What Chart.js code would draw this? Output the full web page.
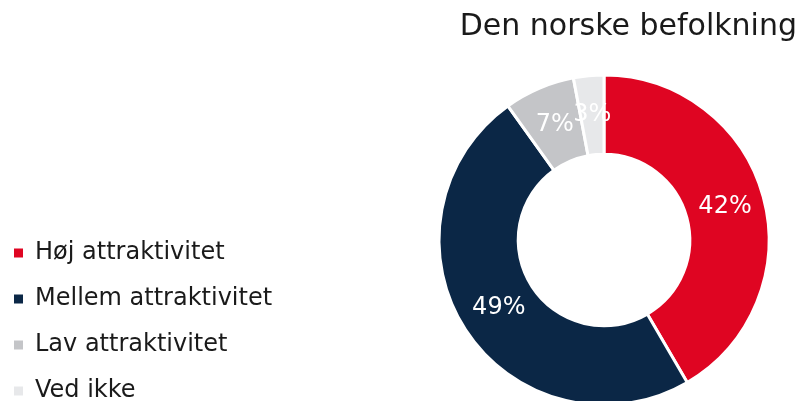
<!DOCTYPE html>
<html>
<head>
<meta charset="utf-8">
<script src="https://cdn.jsdelivr.net/npm/chart.js@4"></script>
<style>
  html, body { margin: 0; padding: 0; background: #ffffff; overflow: hidden; }
  #wrap { position: relative; width: 800px; height: 425px; }
</style>
</head>
<body>
<div id="wrap"><canvas id="c"></canvas></div>
<script>
const categories = ['Høj attraktivitet', 'Mellem attraktivitet', 'Lav attraktivitet', 'Ved ikke'];
const values = [42, 49, 7, 3];
const valueLabels = ['42%', '49%', '7%', '3%'];
const colors = ['#DF0522', '#0B2746', '#C4C5C8', '#E7E8EA'];
const titleText = 'Den norske befolkning';

const FONT = '"DejaVu Sans", sans-serif';

const legendWidthPlugin = {
  id: 'legendWidth',
  beforeInit(chart) {
    const origFit = chart.legend.fit;
    chart.legend.fit = function () {
      origFit.bind(chart.legend)();
      this.width = 419;
    };
  }
};

const sliceLabels = {
  id: 'sliceLabels',
  afterDatasetsDraw(chart) {
    const ctx = chart.ctx;
    const meta = chart.getDatasetMeta(0);
    ctx.save();
    ctx.fillStyle = '#ffffff';
    ctx.font = '24px ' + FONT;
    ctx.textAlign = 'center';
    ctx.textBaseline = 'middle';
    meta.data.forEach((arc, i) => {
      const p = arc.tooltipPosition();
      ctx.fillText(valueLabels[i], p.x, p.y);
    });
    ctx.restore();
  }
};

const baseGenerate = Chart.overrides.doughnut.plugins.legend.labels.generateLabels;

new Chart(document.getElementById('c'), {
  type: 'doughnut',
  data: {
    labels: categories,
    datasets: [{
      data: values,
      backgroundColor: colors,
      borderColor: '#ffffff',
      borderWidth: 3,
      hoverOffset: 0
    }]
  },
  options: {
    responsive: true,
    maintainAspectRatio: false,
    animation: false,
    radius: 165,
    cutout: '52%',
    layout: { padding: { left: -8, right: 3, top: 0, bottom: 0 } },
    plugins: {
      title: {
        display: true,
        text: titleText,
        align: 'end',
        color: '#1a1a1a',
        font: { family: FONT, size: 30, weight: 'normal', lineHeight: 1.2 },
        padding: { top: 9.5, bottom: 9.5 }
      },
      legend: {
        position: 'left',
        align: 'end',
        labels: {
          boxWidth: 9,
          boxHeight: 9,
          padding: 22,
          color: '#1a1a1a',
          font: { family: FONT, size: 24 },
          generateLabels(chart) {
            return baseGenerate(chart).map(l => Object.assign(l, { lineWidth: 0, strokeStyle: 'rgba(0,0,0,0)' }));
          }
        }
      },
      tooltip: { enabled: false }
    }
  },
  plugins: [legendWidthPlugin, sliceLabels]
});
</script>
</body>
</html>
